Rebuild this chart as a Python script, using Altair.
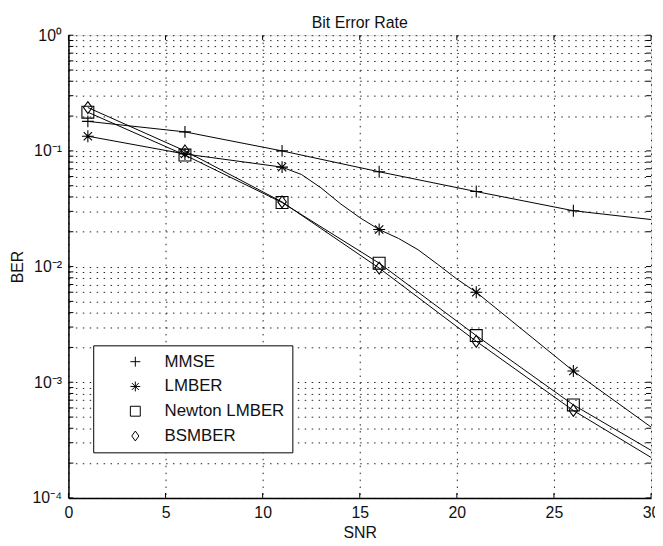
import altair as alt
import pandas as pd

# ---- data ----
snr_mmse = [1, 6, 11, 16, 21, 26, 30]
ber_mmse = [0.180, 0.146, 0.100, 0.066, 0.0445, 0.0304, 0.0255]

snr_lmber = [1, 6, 11, 12, 13, 14, 15, 16, 17, 18, 19, 20, 21, 26, 30]
ber_lmber = [0.134, 0.094, 0.0724, 0.0625, 0.0480, 0.0350, 0.0265, 0.0209,
             0.0175, 0.0140, 0.0105, 0.0078, 0.0060, 0.00125, 0.00041]

snr_newton = [1, 6, 11, 16, 21, 26, 30]
ber_newton = [0.216, 0.092, 0.0358, 0.0107, 0.00253, 0.000637, 0.000258]

snr_bsmber = [1, 6, 11, 16, 21, 26, 30]
ber_bsmber = [0.237, 0.100, 0.0362, 0.0097, 0.00226, 0.00057, 0.000224]

marker_snr = [1, 6, 11, 16, 21, 26]
series_names = ["MMSE", "LMBER", "Newton LMBER", "BSMBER"]
x_ticks = [0, 5, 10, 15, 20, 25, 30]
decades = [-4, -3, -2, -1]

# ---- build tables ----
rows = []
for name, xs, ys in [("MMSE", snr_mmse, ber_mmse), ("LMBER", snr_lmber, ber_lmber),
                     ("Newton LMBER", snr_newton, ber_newton), ("BSMBER", snr_bsmber, ber_bsmber)]:
    for x, y in zip(xs, ys):
        rows.append({"series": name, "snr": x, "ber": y, "marker": x in marker_snr})
df = pd.DataFrame(rows)

y_ticks = []
for e in decades:
    for m in range(1, 10):
        y_ticks.append(float(f"{m}e{e}"))
y_ticks.append(1.0)

ytick_df = pd.DataFrame({"ber": y_ticks})
xtick_df = pd.DataFrame({"snr": x_ticks})

label_expr = ("datum.value == 1 ? '10⁰' : datum.value == 0.1 ? '10⁻¹' : "
              "datum.value == 0.01 ? '10⁻²' : datum.value == 0.001 ? '10⁻³' : "
              "datum.value == 0.0001 ? '10⁻⁴' : ''")

FONT = "Liberation Sans"
W, H = 588, 467
TL = 5  # inward tick length

plus = "M-1,0H1M0,-1V1"
asterisk = "M-1,0H1M0,-1V1M-0.7,-0.7L0.7,0.7M-0.7,0.7L0.7,-0.7"
square = "M-1,-1H1V1H-1Z"
diamond = "M0,-1L0.72,0L0,1L-0.72,0Z"

x_scale = alt.Scale(domain=[0, 30], nice=False, zero=False)
y_scale = alt.Scale(type="log", domain=[1e-4, 1], nice=False)

x_axis = alt.Axis(values=x_ticks, grid=True, gridDash=[1.5, 5.5], gridColor="#222",
                  gridOpacity=1, gridWidth=1, tickSize=0, labelPadding=7,
                  labelFontSize=16, titleFontSize=16, titlePadding=4,
                  labelFont=FONT, titleFont=FONT, titleFontWeight="normal",
                  domainColor="black", domainWidth=1.5, labelColor="#111",
                  titleColor="#111", labelFlush=False)
y_axis = alt.Axis(values=y_ticks, labelExpr=label_expr, grid=True,
                  gridDash=[1.5, 5.5], gridColor="#222", gridOpacity=1, gridWidth=1,
                  tickSize=0, labelPadding=7, labelFontSize=16, titleFontSize=16,
                  titlePadding=7, labelFont=FONT, titleFont=FONT,
                  titleFontWeight="normal", domainColor="black", domainWidth=1.5,
                  labelColor="#111", titleColor="#111", labelFlush=False,
                  labelOverlap=False)

x_enc = alt.X("snr:Q", title="SNR", scale=x_scale, axis=x_axis)
y_enc = alt.Y("ber:Q", title="BER", scale=y_scale, axis=y_axis)

lines = alt.Chart(df).mark_line(color="black", strokeWidth=1).encode(
    x=x_enc, y=y_enc, detail="series:N", order="snr:Q")

points = alt.Chart(df).transform_filter("datum.marker").mark_point(
    filled=False, color="black", size=144, strokeWidth=1.1, opacity=1).encode(
    x=x_enc, y=y_enc,
    shape=alt.Shape("series:N",
                    scale=alt.Scale(domain=series_names, range=[plus, asterisk, square, diamond]),
                    legend=alt.Legend(title=None, orient="none", legendX=25, legendY=313,
                                      strokeColor="black", fillColor="white", padding=8,
                                      symbolOffset=26, labelOffset=21, rowPadding=7,
                                      symbolSize=100, symbolStrokeWidth=1,
                                      symbolStrokeColor="black", labelFontSize=17,
                                      labelFont=FONT, labelColor="#111", cornerRadius=0)))

# inward ticks (MATLAB style) on all four sides
ytick_left = alt.Chart(ytick_df).mark_rule(color="black", strokeWidth=1).encode(
    y=y_enc, x=alt.value(0), x2=alt.value(TL))
ytick_right = alt.Chart(ytick_df).mark_rule(color="black", strokeWidth=1).encode(
    y=y_enc, x=alt.value(W - TL), x2=alt.value(W))
xtick_bottom = alt.Chart(xtick_df).mark_rule(color="black", strokeWidth=1).encode(
    x=x_enc, y=alt.value(H - TL), y2=alt.value(H))
xtick_top = alt.Chart(xtick_df).mark_rule(color="black", strokeWidth=1).encode(
    x=x_enc, y=alt.value(0), y2=alt.value(TL))

chart = alt.layer(lines, ytick_left, ytick_right, xtick_bottom, xtick_top, points).properties(
    width=W, height=H,
    title=alt.TitleParams("Bit Error Rate", fontSize=16, font=FONT, fontWeight="normal",
                          offset=-4, color="#111"),
    autosize=alt.AutoSizeParams(type="none"),
    padding={"left": 61, "top": 25, "right": 4, "bottom": 40},
).configure_view(stroke="black", strokeWidth=1.5).configure(background="white")

chart.save("out.html", embed_options={"renderer": "svg", "actions": False})
